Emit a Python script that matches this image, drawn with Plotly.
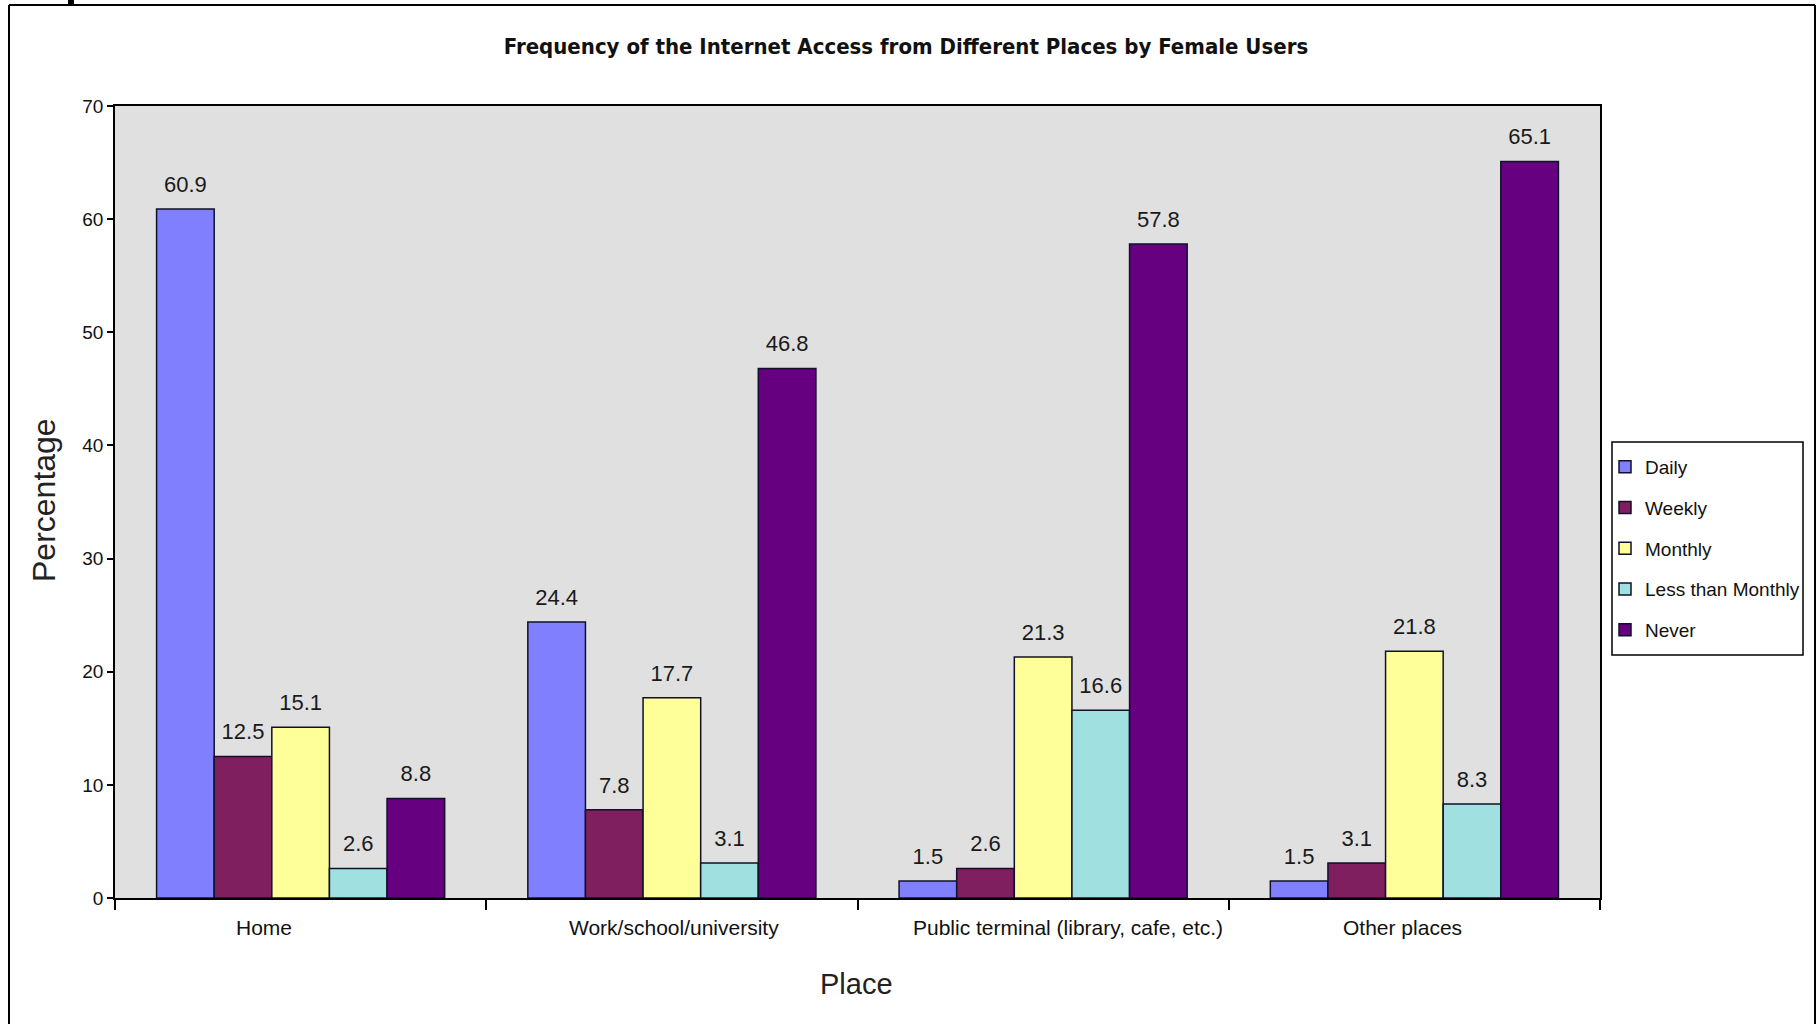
import plotly.graph_objects as go

categories = ["Home", "Work/school/university", "Public terminal (library, cafe, etc.)", "Other places"]
daily = [60.9, 24.4, 1.5, 1.5]
weekly = [12.5, 7.8, 2.6, 3.1]
monthly = [15.1, 17.7, 21.3, 21.8]
less_than_monthly = [2.6, 3.1, 16.6, 8.3]
never = [8.8, 46.8, 57.8, 65.1]

series_names = ["Daily", "Weekly", "Monthly", "Less than Monthly", "Never"]
series_values = [daily, weekly, monthly, less_than_monthly, never]
series_colors = ["#8080FF", "#7F1F5F", "#FFFF99", "#A0E0E0", "#660080"]

# horizontal offsets (px) of the category labels as they appear in the original
label_xshift = [-37, 2, 25, -12]

W, H = 1820, 1024
ML, MR, MT, MB = 115, 220, 106, 126
PW = W - ML - MR
PH = H - MT - MB
GAP = 0.224


def fx(px):
    return (px - ML) / PW


def fy(py):
    return (H - MB - py) / PH


FONT = "Liberation Sans, Arial, sans-serif"

fig = go.Figure()
for name, vals, col in zip(series_names, series_values, series_colors):
    fig.add_trace(go.Bar(
        name=name, x=categories, y=vals, offsetgroup=name,
        marker=dict(color=col, line=dict(color="#10102a", width=1.5)),
        legendgroup=name, hoverinfo="x+y+name",
    ))
for name, vals in zip(series_names, series_values):
    fig.add_trace(go.Scatter(
        x=categories, y=vals, offsetgroup=name, mode="markers+text",
        text=[f"{v}" for v in vals], textposition="top center",
        textfont=dict(family=FONT, size=22, color="#1a1a1a"),
        marker=dict(size=17, opacity=0), showlegend=False, cliponaxis=False,
        hoverinfo="skip",
    ))

border = dict(color="black", width=2)

fig.update_layout(
    width=W, height=H,
    margin=dict(l=ML, r=MR, t=MT, b=MB),
    paper_bgcolor="white", plot_bgcolor="#E0E0E0",
    barmode="group", bargap=GAP, bargroupgap=0,
    scattermode="group", scattergap=GAP,
    showlegend=True,
    title=dict(
        text="<b>Frequency of the Internet Access from Different Places by Female Users</b>",
        font=dict(family="Liberation Sans Narrow, Arial Narrow, DejaVu Sans Condensed, sans-serif", size=22, color="#111"),
        x=906 / W, xref="container", xanchor="center",
        y=1 - 46 / H, yref="container", yanchor="middle",
    ),
    legend=dict(
        x=fx(1605), y=fy(448), xanchor="left", yanchor="top",
        bgcolor="rgba(0,0,0,0)", borderwidth=0,
        font=dict(family=FONT, size=19, color="#111"),
        tracegroupgap=13, traceorder="grouped",
        itemwidth=30,
    ),
    xaxis=dict(
        type="category", tickson="boundaries", ticks="outside", ticklen=10,
        tickcolor="black", tickwidth=1.5, showticklabels=False,
        showline=True, linecolor="black", linewidth=1.5, mirror=True,
        showgrid=False, zeroline=False,
    ),
    yaxis=dict(
        range=[0, 70], dtick=10, ticks="outside", ticklen=6,
        tickcolor="black", tickwidth=1.5,
        showline=True, linecolor="black", linewidth=1.5, mirror=True,
        showgrid=False, zeroline=False,
        tickfont=dict(family=FONT, size=19, color="#111"),
    ),
    annotations=[
        dict(text="Percentage", xref="paper", yref="paper", x=fx(44), y=fy(500),
             textangle=-90, showarrow=False, xanchor="center", yanchor="middle",
             font=dict(family=FONT, size=32, color="#222")),
        dict(text="Place", xref="paper", yref="paper", x=fx(856), y=fy(984),
             showarrow=False, xanchor="center", yanchor="middle",
             font=dict(family=FONT, size=29, color="#222")),
    ] + [
        dict(text=c, xref="x", yref="paper", x=c, y=fy(927), xshift=s,
             showarrow=False, xanchor="center", yanchor="middle",
             font=dict(family=FONT, size=21, color="#111"))
        for c, s in zip(categories, label_xshift)
    ],
    shapes=[
        dict(type="line", xref="paper", yref="paper",
             x0=fx(9), x1=fx(9), y0=fy(1024), y1=fy(5), line=border),
        dict(type="line", xref="paper", yref="paper",
             x0=fx(9), x1=fx(1815), y0=fy(5), y1=fy(5), line=border),
        dict(type="line", xref="paper", yref="paper",
             x0=fx(1815), x1=fx(1815), y0=fy(1024), y1=fy(5), line=border),
        dict(type="rect", xref="paper", yref="paper",
             x0=fx(68), x1=fx(74), y0=fy(4), y1=fy(0),
             line=dict(width=0), fillcolor="black"),
        dict(type="rect", xref="paper", yref="paper",
             x0=fx(1612), x1=fx(1803), y0=fy(655), y1=fy(442),
             line=dict(color="black", width=1.5), fillcolor="white", layer="below"),
    ],
)

fig.write_html("out.html")
